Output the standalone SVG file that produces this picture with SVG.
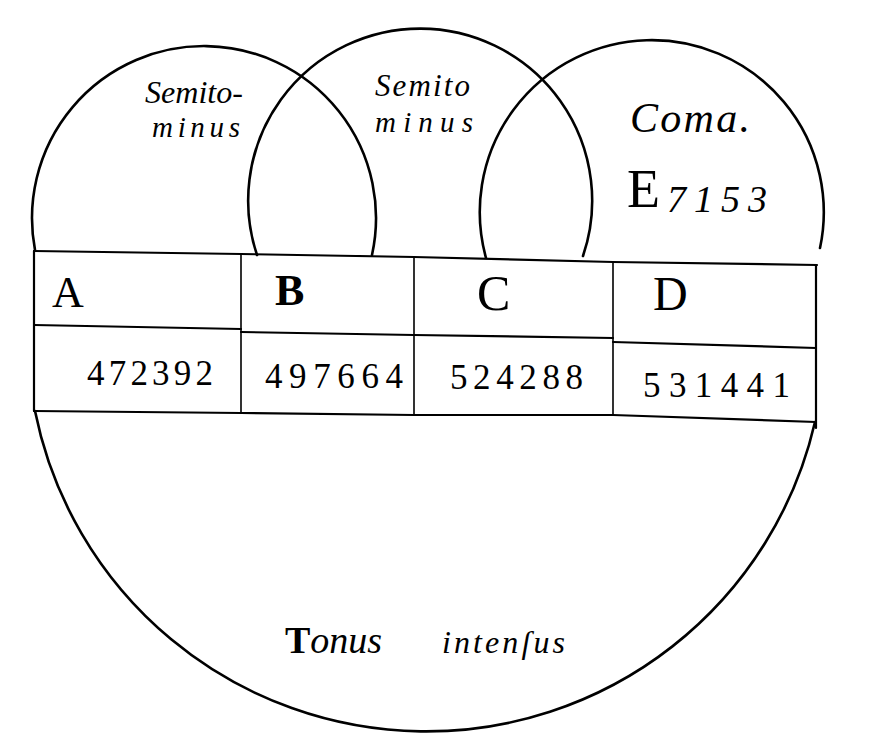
<svg xmlns="http://www.w3.org/2000/svg" width="882" height="746" viewBox="0 0 882 746">
<style>
.arc{fill:none;stroke:#000;stroke-width:2.6;stroke-linecap:round}
.rule{fill:none;stroke:#000;stroke-width:2.2;stroke-linecap:round;stroke-linejoin:round}
.div{fill:none;stroke:#000;stroke-width:1.6;stroke-linecap:round}
.serif{font-family:"Liberation Serif","DejaVu Serif",serif;fill:#000}
.script{font-family:"Liberation Serif","DejaVu Serif",serif;font-style:italic;fill:#000}
.num{font-family:"Liberation Serif","DejaVu Serif",serif;font-size:35px;fill:#000}
</style>
<rect width="882" height="746" fill="#fff"/>
<g id="connectors">
<path class="arc" d="M35 250 A172 172 0 1 1 372 255"/>
<path class="arc" d="M257 255 A172 172 0 1 1 583 256"/>
<path class="arc" d="M486 258 A172 172 0 1 1 820 248"/>
<path class="arc" d="M35 411 A399 399 0 0 0 815 422"/>
</g>
<g id="table">
<path class="rule" d="M34 251 L241 254 L414 257 L613 262 L817 265"/>
<path class="rule" d="M34 325 L241 329 M241 332 L414 335 L613 338 M613 342 L816 348"/>
<path class="rule" d="M34 411 L241 413 L414 415 L613 415 L816 422"/>
<path class="rule" d="M34 251 L34 411 M816 265 L816 428"/>
<path class="div" d="M241 254 L241 413 M414 257 L414 415 M613 262 L613 415"/>
</g>
<g id="semitonus-minus-1">
<text class="script" x="145" y="103" font-size="31" textLength="98" lengthAdjust="spacingAndGlyphs">Semito-</text>
<text class="script" x="152" y="137" font-size="29" textLength="88" lengthAdjust="spacing">minus</text>
</g>
<g id="semitonus-minus-2">
<text class="script" x="375" y="96" font-size="31" textLength="95" lengthAdjust="spacing">Semito</text>
<text class="script" x="375" y="132" font-size="29" textLength="98" lengthAdjust="spacing">minus</text>
</g>
<g id="comma">
<text class="script" x="630" y="132" font-size="42" textLength="120" lengthAdjust="spacing">Coma.</text>
<text class="serif" x="627" y="207" font-size="54">E</text>
<text class="script" x="667" y="212" font-size="38" textLength="100" lengthAdjust="spacing">7153</text>
</g>
<g id="cell-A">
<text class="serif" x="52" y="307" font-size="44">A</text>
<text class="num" x="87" y="385" textLength="126" lengthAdjust="spacing">472392</text>
</g>
<g id="cell-B">
<text class="serif" x="275" y="305" font-size="44" font-weight="bold">B</text>
<text class="num" x="265" y="388" textLength="138" lengthAdjust="spacing">497664</text>
</g>
<g id="cell-C">
<text class="serif" x="477" y="310" font-size="50">C</text>
<text class="num" x="450" y="389" textLength="133" lengthAdjust="spacing">524288</text>
</g>
<g id="cell-D">
<text class="serif" x="653" y="310" font-size="48">D</text>
<text class="num" x="643" y="397" textLength="147" lengthAdjust="spacing">531441</text>
</g>
<g id="tonus">
<text class="serif" x="285" y="653" font-size="38" textLength="97" lengthAdjust="spacing"><tspan font-weight="bold">T</tspan><tspan font-style="italic">onus</tspan></text>
<text class="script" x="442" y="653" font-size="32" textLength="123" lengthAdjust="spacing">intenſus</text>
</g>
</svg>
